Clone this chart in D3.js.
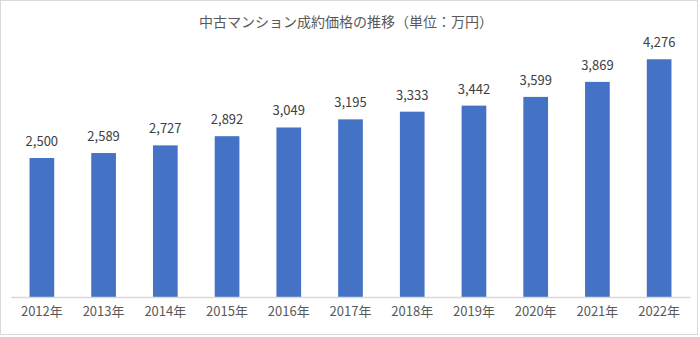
<!DOCTYPE html>
<html>
<head>
<meta charset="utf-8">
<script src="https://cdn.jsdelivr.net/npm/d3@7"></script>
<style>
  html, body { margin: 0; padding: 0; background: #fff; }
  svg { display: block; }
  text { font-family: "Noto Sans CJK JP", "Noto Sans", sans-serif; }
</style>
</head>
<body>
<svg id="chart" width="700" height="337"></svg>
<script>
// 中古マンション成約価格（万円）
const years = ["2012年", "2013年", "2014年", "2015年", "2016年", "2017年",
               "2018年", "2019年", "2020年", "2021年", "2022年"];
const prices = [2500, 2589, 2727, 2892, 3049, 3195, 3333, 3442, 3599, 3869, 4276];
const title = "中古マンション成約価格の推移（単位：万円）";

const W = 700, H = 337;
const plot = { left: 11, right: 690, top: 19, bottom: 297 };

const svg = d3.select("#chart");

// outer frame
svg.append("rect")
  .attr("x", 0.5).attr("y", 0.5)
  .attr("width", W - 3).attr("height", H - 3)
  .attr("fill", "#fff").attr("stroke", "#d9d9d9");

const x = d3.scaleBand()
  .domain(years)
  .range([plot.left, plot.right])
  .paddingInner(0.6).paddingOuter(0.3);

const y = d3.scaleLinear()
  .domain([0, 5000])
  .range([plot.bottom, plot.top]);

// title
svg.append("text")
  .attr("x", 346).attr("y", 27)
  .attr("text-anchor", "middle")
  .attr("font-size", 14)
  .attr("fill", "#595959")
  .text(title);

const data = years.map((yr, i) => ({ yr, v: prices[i] }));

// bars
svg.append("g").selectAll("rect")
  .data(data).join("rect")
  .attr("x", d => x(d.yr))
  .attr("width", x.bandwidth())
  .attr("y", d => y(d.v))
  .attr("height", d => y(0) - y(d.v))
  .attr("fill", "#4472c4");

// value labels
const fmt = d3.format(",");
svg.append("g").selectAll("text")
  .data(data).join("text")
  .attr("x", d => x(d.yr) + x.bandwidth() / 2)
  .attr("y", d => y(d.v) - 12)
  .attr("text-anchor", "middle")
  .attr("font-size", 13)
  .attr("fill", "#404040")
  .text(d => fmt(d.v));

// category axis
const xAxis = svg.append("g")
  .attr("transform", `translate(0,${plot.bottom})`)
  .call(d3.axisBottom(x).tickSize(0).tickPadding(10).tickSizeOuter(0));
xAxis.select(".domain").attr("stroke", "#d9d9d9").attr("stroke-width", 1.5);
xAxis.selectAll("text")
  .attr("font-size", 13)
  .attr("fill", "#595959")
  .attr("font-family", "Noto Sans CJK JP, Noto Sans, sans-serif");
</script>
</body>
</html>
